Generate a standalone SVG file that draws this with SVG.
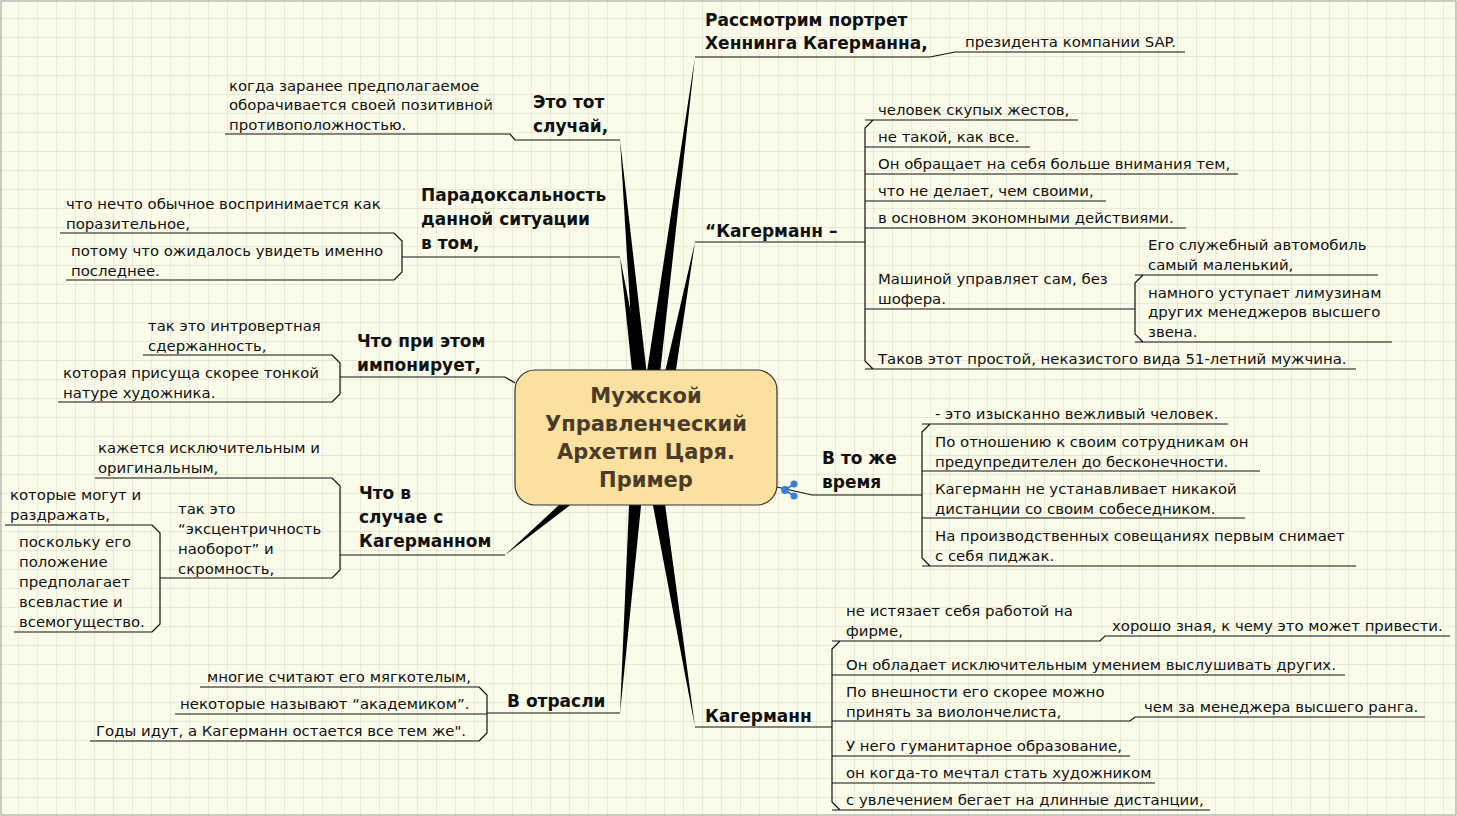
<svg xmlns="http://www.w3.org/2000/svg" width="1457" height="816" viewBox="0 0 1457 816">
<defs>
<pattern id="g" width="19" height="19" patternUnits="userSpaceOnUse"><path d="M19 0V19H0" fill="none" stroke="#d6d6c6" stroke-width="1"/></pattern>
<style>
text{font-family:"DejaVu Sans",sans-serif;font-size:14.9px;fill:#111}
.m{font-size:17px;font-weight:bold}
.c{font-size:21px;font-weight:bold;fill:#4a3c28;text-anchor:middle}
.l{fill:none;stroke:#111;stroke-width:1.2}
.s{fill:#000}
</style>
</defs>
<rect width="1457" height="816" fill="#fbfbea"/>
<rect width="1457" height="816" fill="url(#g)"/>
<rect x="1" y="1" width="1455" height="814" fill="none" stroke="#999"/>
<g id="connectors">
<polygon class="s" points="637,437 653,437 695,57"/>
<polygon class="s" points="638,437 654,437 620,140"/>
<polygon class="s" points="639,437 655,437 620,257"/>
<polygon class="s" points="650,437 666,437 695,242"/>
<polygon class="s" points="640,437 656,437 695,727"/>
<polygon class="s" points="632,437 648,437 620,713"/>
<polygon class="s" points="640,430 650,444 505,555"/>
<path class="l" d="M505,555 L350,555 M620,713 L490,713 M515,383 L505,377 L345,377 M620,257 L410,257 M620,140 L515,140 L510,134 L225,134 M695,57 L930,57 L955,52 L1185,52 M695,242 L840,242 M695,727 L832,727 M777,487 L812,495 L922,495"/>
<path class="l" d="M840,242 L865,242 M873,120 L865,128 L865,361 L873,369 M865,120 L1078,120 M865,147 L1030,147 M865,174 L1238,174 M865,201 L1106,201 M865,228 L1186,228 M865,309 L1133,309 M865,369 L1356,369 M1133,309 L1135,309 M1143,275 L1135,283 L1135,334 L1143,342 M1135,275 L1378,275 M1135,342 L1392,342"/>
<path class="l" d="M930,424 L922,432 L922,558 L930,566 M922,424 L1228,424 M922,471 L1260,471 M922,518 L1245,518 M922,566 L1356,566"/>
<path class="l" d="M840,641 L832,649 L832,802 L840,810 M832,641 L1100,641 L1105,636 L1450,636 M832,675 L1345,675 M832,721 L1130,721 L1135,717 L1425,717 M832,756 L1130,756 M832,783 L1155,783 M832,810 L1210,810"/>
<path class="l" d="M490,713 L487,713 M479,687 L487,695 L487,733 L479,741 M200,687 L479,687 M175,714 L487,714 M90,741 L479,741"/>
<path class="l" d="M350,555 L340,555 M332,478 L340,486 L340,570 L332,578 M95,478 L332,478 M165,578 L332,578 M165,578 L160,578 M152,525 L160,533 L160,624 L152,632 M5,525 L152,525 M14,632 L152,632"/>
<path class="l" d="M345,377 L340,377 M332,355 L340,363 L340,394 L332,402 M143,355 L332,355 M58,402 L332,402"/>
<path class="l" d="M410,257 L402,257 M394,233 L402,241 L402,272 L394,280 M60,233 L394,233 M66,280 L394,280"/>
</g>
<g id="center">
<rect x="515" y="370" width="262" height="135" rx="20" fill="#fbe0a0" stroke="#333" stroke-width="1.2"/>
<text class="c" x="646" y="403">Мужской</text>
<text class="c" x="646" y="431">Управленческий</text>
<text class="c" x="646" y="459">Архетип Царя.</text>
<text class="c" x="646" y="487">Пример</text>
<g transform="translate(780,480)"><circle cx="14" cy="4" r="3.5" fill="#3a7fd0"/><circle cx="14" cy="16" r="3.5" fill="#3a7fd0"/><circle cx="5" cy="10" r="4" fill="#3a7fd0"/><path d="M5 10L14 4M5 10L14 16" stroke="#3a7fd0" stroke-width="2"/></g>
</g>
<g id="t1"><text class="m" x="705" y="26">Рассмотрим портрет</text><text class="m" x="705" y="49">Хеннинга Кагерманна,</text><text x="965" y="47">президента компании SAP.</text></g>
<g id="t2"><text class="m" x="705" y="237">“Кагерманн –</text>
<text x="878" y="115">человек скупых жестов,</text>
<text x="878" y="142">не такой, как все.</text>
<text x="878" y="169">Он обращает на себя больше внимания тем,</text>
<text x="878" y="196">что не делает, чем своими,</text>
<text x="878" y="223">в основном экономными действиями.</text>
<text x="878" y="284">Машиной управляет сам, без</text><text x="878" y="304">шофера.</text>
<text x="1148" y="250">Его служебный автомобиль</text><text x="1148" y="270">самый маленький,</text>
<text x="1148" y="298">намного уступает лимузинам</text><text x="1148" y="317">других менеджеров высшего</text><text x="1148" y="337">звена.</text>
<text x="878" y="364">Таков этот простой, неказистого вида 51-летний мужчина.</text></g>
<g id="t3"><text class="m" x="822" y="464">В то же</text><text class="m" x="822" y="488">время</text>
<text x="935" y="419">- это изысканно вежливый человек.</text>
<text x="935" y="447">По отношению к своим сотрудникам он</text><text x="935" y="467">предупредителен до бесконечности.</text>
<text x="935" y="494">Кагерманн не устанавливает никакой</text><text x="935" y="514">дистанции со своим собеседником.</text>
<text x="935" y="541">На производственных совещаниях первым снимает</text><text x="935" y="561">с себя пиджак.</text></g>
<g id="t4"><text class="m" x="705" y="722">Кагерманн</text>
<text x="846" y="616">не истязает себя работой на</text><text x="846" y="636">фирме,</text>
<text x="1112" y="631">хорошо зная, к чему это может привести.</text>
<text x="846" y="670">Он обладает исключительным умением выслушивать других.</text>
<text x="846" y="697">По внешности его скорее можно</text><text x="846" y="717">принять за виолончелиста,</text>
<text x="1144" y="712">чем за менеджера высшего ранга.</text>
<text x="846" y="751">У него гуманитарное образование,</text>
<text x="846" y="778">он когда-то мечтал стать художником</text>
<text x="846" y="805">с увлечением бегает на длинные дистанции,</text></g>
<g id="t5"><text class="m" x="507" y="707">В отрасли</text>
<text x="207" y="682">многие считают его мягкотелым,</text>
<text x="180" y="709">некоторые называют “академиком”.</text>
<text x="96" y="736">Годы идут,  а Кагерманн остается все тем же".</text></g>
<g id="t6"><text class="m" x="359" y="499">Что в</text><text class="m" x="359" y="523">случае с</text><text class="m" x="359" y="547">Кагерманном</text>
<text x="98" y="453">кажется исключительным и</text><text x="98" y="473">оригинальным,</text>
<text x="178" y="514">так это</text><text x="178" y="534">“эксцентричность</text><text x="178" y="554">наоборот” и</text><text x="178" y="574">скромность,</text>
<text x="10" y="500">которые могут и</text><text x="10" y="520">раздражать,</text>
<text x="19" y="547">поскольку его</text><text x="19" y="567">положение</text><text x="19" y="587">предполагает</text><text x="19" y="607">всевластие и</text><text x="19" y="627">всемогущество.</text></g>
<g id="t7"><text class="m" x="357" y="347">Что при этом</text><text class="m" x="357" y="371">импонирует,</text>
<text x="148" y="331">так это интровертная</text><text x="148" y="351">сдержанность,</text>
<text x="63" y="378">которая присуща скорее тонкой</text><text x="63" y="398">натуре художника.</text></g>
<g id="t8"><text class="m" x="421" y="201">Парадоксальность</text><text class="m" x="421" y="225">данной ситуации</text><text class="m" x="421" y="249">в том,</text>
<text x="66" y="209">что нечто обычное воспринимается как</text><text x="66" y="229">поразительное,</text>
<text x="71" y="256">потому что ожидалось увидеть именно</text><text x="71" y="276">последнее.</text></g>
<g id="t9"><text class="m" x="533" y="108">Это тот</text><text class="m" x="533" y="132">случай,</text>
<text x="229" y="91">когда заранее предполагаемое</text><text x="229" y="110">оборачивается своей позитивной</text><text x="229" y="130">противоположностью.</text></g>
</svg>
